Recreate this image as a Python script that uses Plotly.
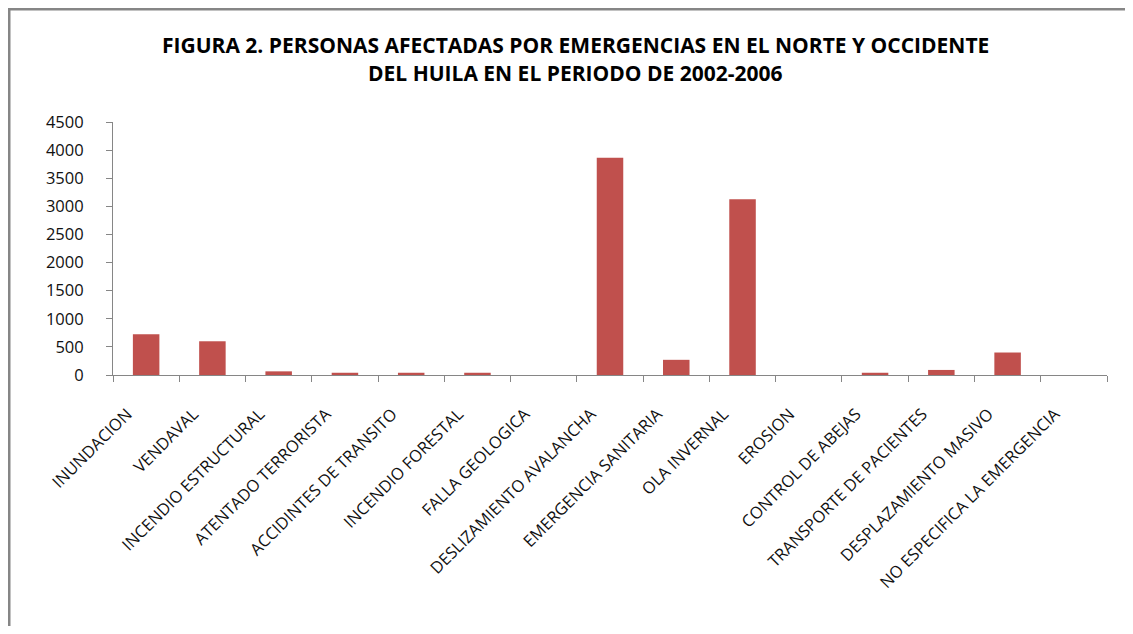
import plotly.graph_objects as go

###### Data

CATEGORIAS = [
    "INUNDACION", "VENDAVAL", "INCENDIO ESTRUCTURAL", "ATENTADO TERRORISTA",
    "ACCIDINTES DE TRANSITO", "INCENDIO FORESTAL", "FALLA GEOLOGICA",
    "DESLIZAMIENTO AVALANCHA", "EMERGENCIA SANITARIA", "OLA INVERNAL",
    "EROSION", "CONTROL DE ABEJAS", "TRANSPORTE DE PACIENTES",
    "DESPLAZAMIENTO MASIVO", "NO ESPECIFICA LA EMERGENCIA",
]
PERSONAS = [725, 600, 65, 40, 40, 40, 0, 3865, 270, 3125, 0, 40, 90, 400, 0]
Y_TICKS = [0, 500, 1000, 1500, 2000, 2500, 3000, 3500, 4000, 4500]

TITULO_1 = "FIGURA 2. PERSONAS AFECTADAS POR EMERGENCIAS EN EL NORTE Y OCCIDENTE"
TITULO_2 = "DEL HUILA EN EL PERIODO DE 2002-2006"

BAR_COLOR = "#C0504D"
AXIS_COLOR = "#868686"
FONT = "Open Sans"

# page body has an 8px margin, so the figure is drawn 16px smaller
W, H = 1117, 618
PL, PR, PT, PB = 105, 1099, 114, 367   # plot area in figure pixels

###### Figure

fig = go.Figure(go.Bar(
    x=CATEGORIAS,
    y=PERSONAS,
    marker=dict(color=BAR_COLOR, line=dict(width=0)),
))

fig.update_layout(
    width=W,
    height=H,
    margin=dict(l=PL, r=W - PR, t=PT, b=H - PB),
    plot_bgcolor="white",
    paper_bgcolor="white",
    bargap=0.6,
    showlegend=False,
    font=dict(family=FONT, size=16, color="black"),
)

fig.update_xaxes(
    type="category",
    showline=True, linecolor=AXIS_COLOR, linewidth=1,
    ticks="outside", tickson="boundaries", ticklen=6, tickcolor=AXIS_COLOR,
    tickangle=-45, tickfont=dict(size=16.5, family=FONT, color="#111111"),
    ticklabelstandoff=22, ticklabelshift=-19,
    showgrid=False,
)
fig.update_yaxes(
    range=[0, 4500], tickvals=Y_TICKS,
    showline=True, linecolor=AXIS_COLOR, linewidth=1,
    ticks="outside", ticklen=6, tickcolor=AXIS_COLOR,
    tickfont=dict(size=16.5, family=FONT, color="#111111"),
    ticklabelstandoff=19,
    showgrid=False, zeroline=False,
)

pw, ph = PR - PL, PB - PT

# title as two lines so the spacing matches
for txt, ypix in [(TITULO_1, 37), (TITULO_2, 65)]:
    fig.add_annotation(
        text="<b>" + txt + "</b>", xref="paper", yref="paper",
        x=(567 - PL) / pw, y=(PB - ypix) / ph,
        xanchor="center", yanchor="middle", showarrow=False,
        font=dict(family=FONT, size=21, color="black"),
    )

# outer frame (only top and left edges visible)
fig.add_shape(type="line", xref="paper", yref="paper",
              x0=-PL / pw, x1=(W - PL) / pw, y0=(PB - 1) / ph, y1=(PB - 1) / ph,
              line=dict(color=AXIS_COLOR, width=3))
fig.add_shape(type="line", xref="paper", yref="paper",
              x0=(1 - PL) / pw, x1=(1 - PL) / pw, y0=(PB - 1) / ph, y1=(PB - H) / ph,
              line=dict(color=AXIS_COLOR, width=3))

fig.write_html("out.html")
